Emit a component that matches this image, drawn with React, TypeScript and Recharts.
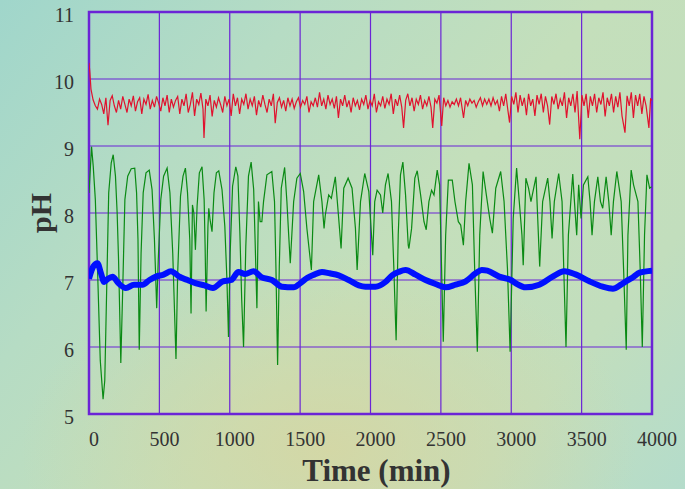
import { LineChart, Line, XAxis, YAxis, CartesianGrid, ReferenceArea } from 'recharts';

// time (min) ticks and pH ticks
const timeTicks = [0, 500, 1000, 1500, 2000, 2500, 3000, 3500, 4000];
const phTicks = [5, 6, 7, 8, 9, 10, 11];

// red trace, [time, pH]
const redPoints: [number, number][] = [
  [0, 10.24], [6, 10.1], [14, 9.85], [29, 9.69], [45, 9.6], [60, 9.55], [75, 9.7], [90, 9.62], [105, 9.48], [120, 9.72],
  [135, 9.31], [150, 9.68], [165, 9.75], [180, 9.6], [195, 9.5], [210, 9.68], [225, 9.55], [240, 9.74], [255, 9.62], [270, 9.5],
  [285, 9.7], [300, 9.6], [315, 9.75], [330, 9.52], [345, 9.66], [360, 9.72], [375, 9.48], [390, 9.7], [405, 9.62], [420, 9.77],
  [435, 9.55], [450, 9.68], [465, 9.58], [480, 9.74], [495, 9.64], [510, 9.52], [525, 9.72], [540, 9.6], [555, 9.76], [570, 9.5],
  [585, 9.7], [600, 9.58], [615, 9.68], [630, 9.74], [645, 9.48], [660, 9.7], [675, 9.6], [690, 9.78], [705, 9.5], [720, 9.62],
  [735, 9.8], [750, 9.45], [765, 9.7], [780, 9.62], [795, 9.79], [810, 9.55], [817, 9.12], [830, 9.7], [845, 9.6], [860, 9.76],
  [875, 9.44], [890, 9.68], [905, 9.58], [920, 9.72], [935, 9.62], [950, 9.5], [965, 9.74], [980, 9.6], [995, 9.7], [1010, 9.45],
  [1025, 9.78], [1040, 9.6], [1055, 9.72], [1070, 9.48], [1085, 9.7], [1100, 9.62], [1115, 9.78], [1130, 9.55], [1145, 9.7], [1160, 9.6],
  [1175, 9.74], [1190, 9.46], [1205, 9.68], [1220, 9.58], [1235, 9.76], [1250, 9.62], [1265, 9.5], [1280, 9.7], [1295, 9.6], [1310, 9.78],
  [1323, 9.34], [1338, 9.65], [1353, 9.72], [1368, 9.58], [1383, 9.68], [1398, 9.52], [1413, 9.72], [1428, 9.6], [1443, 9.7], [1458, 9.56],
  [1473, 9.66], [1488, 9.72], [1503, 9.58], [1518, 9.68], [1533, 9.62], [1548, 9.74], [1563, 9.5], [1578, 9.66], [1593, 9.6], [1608, 9.72],
  [1623, 9.58], [1638, 9.8], [1653, 9.6], [1668, 9.7], [1683, 9.55], [1698, 9.76], [1713, 9.62], [1728, 9.7], [1743, 9.56], [1758, 9.74],
  [1772, 9.42], [1787, 9.7], [1802, 9.6], [1817, 9.76], [1832, 9.58], [1847, 9.68], [1862, 9.5], [1877, 9.72], [1892, 9.6], [1907, 9.68],
  [1922, 9.54], [1937, 9.7], [1952, 9.62], [1967, 9.76], [1982, 9.55], [1997, 9.68], [2012, 9.6], [2027, 9.78], [2042, 9.5], [2057, 9.66],
  [2072, 9.6], [2087, 9.74], [2102, 9.56], [2117, 9.7], [2132, 9.62], [2147, 9.78], [2162, 9.48], [2177, 9.7], [2192, 9.6], [2207, 9.76],
  [2222, 9.58], [2235, 9.27], [2250, 9.68], [2265, 9.78], [2280, 9.6], [2295, 9.72], [2310, 9.52], [2325, 9.7], [2340, 9.62], [2355, 9.76],
  [2370, 9.55], [2385, 9.68], [2400, 9.6], [2415, 9.74], [2430, 9.58], [2442, 9.27], [2457, 9.7], [2472, 9.64], [2487, 9.76], [2506, 9.3],
  [2520, 9.72], [2535, 9.6], [2550, 9.68], [2565, 9.58], [2580, 9.66], [2595, 9.62], [2610, 9.7], [2625, 9.6], [2640, 9.72], [2661, 9.42],
  [2676, 9.68], [2691, 9.6], [2706, 9.7], [2721, 9.64], [2736, 9.68], [2751, 9.58], [2766, 9.66], [2781, 9.72], [2796, 9.6], [2811, 9.7],
  [2826, 9.62], [2841, 9.7], [2856, 9.6], [2871, 9.72], [2886, 9.62], [2901, 9.68], [2916, 9.52], [2931, 9.74], [2946, 9.6], [2961, 9.78],
  [2975, 9.55], [2988, 9.35], [3003, 9.74], [3018, 9.62], [3033, 9.8], [3048, 9.5], [3063, 9.76], [3078, 9.6], [3093, 9.72], [3108, 9.46],
  [3123, 9.78], [3138, 9.6], [3153, 9.7], [3168, 9.45], [3183, 9.76], [3198, 9.62], [3213, 9.78], [3228, 9.5], [3243, 9.74], [3258, 9.6],
  [3273, 9.32], [3288, 9.74], [3303, 9.62], [3318, 9.78], [3333, 9.55], [3348, 9.7], [3363, 9.6], [3378, 9.8], [3393, 9.42], [3408, 9.72],
  [3423, 9.6], [3438, 9.78], [3453, 9.5], [3468, 9.82], [3487, 9.1], [3502, 9.76], [3517, 9.6], [3532, 9.78], [3547, 9.42], [3562, 9.74],
  [3577, 9.6], [3592, 9.78], [3607, 9.5], [3622, 9.72], [3637, 9.62], [3652, 9.8], [3667, 9.44], [3682, 9.72], [3697, 9.6], [3712, 9.78],
  [3727, 9.5], [3742, 9.74], [3757, 9.58], [3772, 9.8], [3787, 9.45], [3808, 9.2], [3823, 9.75], [3838, 9.6], [3853, 9.8], [3868, 9.42],
  [3883, 9.76], [3898, 9.6], [3913, 9.78], [3928, 9.48], [3943, 9.74], [3958, 9.6], [3978, 9.27], [3990, 9.7], [4000, 9.68],
];

// green trace, [time, pH]
const greenPoints: [number, number][] = [
  [0, 8.3], [18, 8.99], [30, 8.7], [45, 8.2], [60, 7.2], [80, 5.8], [100, 5.22], [112, 5.5], [125, 6.8], [140, 8.3],
  [158, 8.75], [172, 8.87], [188, 8.55], [200, 8.0], [210, 7.3], [226, 5.76], [240, 6.9], [255, 8.2], [275, 8.55], [300, 8.66],
  [325, 8.67], [338, 8.3], [348, 7.6], [357, 5.96], [370, 7.4], [385, 8.3], [405, 8.6], [428, 8.64], [448, 8.35], [465, 7.6],
  [481, 6.58], [492, 7.3], [510, 8.2], [530, 8.55], [555, 8.67], [575, 8.3], [595, 7.4], [618, 5.82], [630, 7.1], [650, 8.25],
  [668, 8.55], [685, 8.67], [700, 8.3], [716, 7.6], [725, 6.5], [735, 8.12], [745, 8.0], [756, 7.45], [768, 8.1], [784, 8.6],
  [803, 8.69], [818, 8.2], [825, 7.5], [832, 6.53], [845, 7.8], [851, 8.07], [860, 7.9], [874, 7.72], [888, 8.3], [905, 8.6],
  [922, 8.63], [945, 8.35], [965, 7.8], [980, 7.0], [991, 6.15], [1003, 7.4], [1020, 8.4], [1043, 8.69], [1058, 8.55], [1072, 7.7],
  [1085, 6.7], [1098, 6.0], [1114, 7.5], [1133, 8.55], [1152, 8.76], [1170, 8.35], [1180, 7.6], [1193, 6.58], [1204, 8.17], [1216, 7.87],
  [1228, 7.87], [1240, 8.17], [1264, 8.57], [1299, 8.62], [1318, 8.17], [1328, 7.2], [1340, 5.73], [1352, 7.2], [1366, 8.37], [1390, 8.68],
  [1406, 8.17], [1418, 7.7], [1430, 7.25], [1454, 8.17], [1477, 8.52], [1501, 8.59], [1525, 8.32], [1548, 7.77], [1580, 7.15], [1596, 8.17],
  [1632, 8.57], [1655, 8.17], [1670, 7.77], [1679, 7.97], [1703, 8.27], [1722, 8.22], [1750, 8.54], [1774, 7.92], [1791, 7.47], [1810, 8.37],
  [1841, 8.52], [1869, 8.37], [1893, 7.77], [1905, 7.15], [1929, 8.17], [1959, 8.59], [1988, 8.32], [2007, 7.67], [2016, 7.37], [2030, 8.17],
  [2047, 8.34], [2071, 8.27], [2087, 8.0], [2106, 8.42], [2125, 8.59], [2149, 8.17], [2166, 7.17], [2182, 6.1], [2197, 7.67], [2213, 8.57],
  [2230, 8.76], [2249, 8.27], [2268, 7.52], [2273, 7.47], [2292, 7.77], [2315, 8.52], [2332, 8.63], [2356, 8.27], [2380, 7.87], [2396, 7.75],
  [2415, 8.17], [2434, 8.34], [2451, 8.27], [2474, 8.64], [2491, 8.42], [2505, 7.17], [2517, 6.08], [2534, 7.67], [2553, 8.49], [2581, 8.49],
  [2600, 8.17], [2624, 7.87], [2641, 7.82], [2660, 7.52], [2676, 8.17], [2700, 8.74], [2724, 8.42], [2740, 7.17], [2759, 5.93], [2776, 7.67],
  [2800, 8.62], [2823, 8.27], [2847, 7.92], [2866, 7.7], [2890, 8.37], [2925, 8.62], [2949, 8.17], [2973, 7.17], [2992, 5.93], [3014, 7.92],
  [3038, 8.67], [3057, 8.17], [3076, 7.67], [3085, 7.22], [3104, 8.52], [3123, 8.37], [3140, 8.17], [3176, 8.54], [3188, 7.92], [3202, 7.2],
  [3223, 8.17], [3259, 8.52], [3275, 8.17], [3290, 7.62], [3306, 8.17], [3337, 8.59], [3361, 8.17], [3373, 7.17], [3389, 6.0], [3406, 7.67],
  [3437, 8.58], [3449, 8.17], [3465, 7.67], [3479, 8.42], [3496, 7.92], [3513, 8.42], [3544, 8.54], [3560, 8.17], [3574, 7.67], [3591, 8.17],
  [3615, 8.54], [3634, 8.17], [3650, 8.07], [3674, 8.54], [3693, 8.17], [3710, 7.67], [3726, 8.17], [3750, 8.62], [3781, 8.17], [3798, 7.17],
  [3817, 5.96], [3829, 7.67], [3852, 8.64], [3869, 8.42], [3900, 8.17], [3916, 7.17], [3931, 6.0], [3947, 7.67], [3964, 8.57], [3983, 8.37],
  [3997, 8.39],
];

// blue trace, [time, pH]
const bluePoints: [number, number][] = [
  [0, 7.02], [30, 7.2], [60, 7.25], [85, 7.1], [108, 6.97], [135, 7.02], [167, 7.05], [210, 6.95], [262, 6.88], [320, 6.93],
  [381, 6.93], [430, 7.0], [476, 7.05], [530, 7.08], [583, 7.13], [610, 7.1], [642, 7.05], [700, 7.0], [761, 6.95], [820, 6.92],
  [880, 6.88], [951, 6.98], [1010, 7.0], [1062, 7.12], [1109, 7.09], [1169, 7.13], [1228, 7.04], [1299, 7.0], [1371, 6.9], [1454, 6.89],
  [1500, 6.95], [1549, 7.03], [1600, 7.08], [1655, 7.12], [1710, 7.1], [1774, 7.07], [1845, 7.0], [1917, 6.92], [1964, 6.9], [2035, 6.9],
  [2106, 6.97], [2154, 7.07], [2200, 7.12], [2249, 7.15], [2320, 7.08], [2391, 7.0], [2463, 6.94], [2534, 6.89], [2605, 6.93], [2676, 6.98],
  [2747, 7.1], [2790, 7.15], [2830, 7.14], [2914, 7.05], [2997, 7.0], [3033, 6.95], [3104, 6.89], [3199, 6.93], [3294, 7.05], [3377, 7.13],
  [3461, 7.08], [3555, 6.98], [3650, 6.9], [3722, 6.87], [3780, 6.93], [3817, 6.98], [3870, 7.05], [3912, 7.11], [4000, 7.14],
];

const toRows = (pts: [number, number][]) => pts.map(([t, ph]) => ({ t, ph }));

const FONT = '"Liberation Serif", "Times New Roman", serif';
const PURPLE = '#6b24d6';

const YTitle = (props: any) => {
  const { viewBox } = props;
  const cx = 40;
  const cy = viewBox.y + viewBox.height / 2;
  return (
    <text x={cx} y={cy} transform={`rotate(-90 ${cx} ${cy})`} textAnchor="middle" dominantBaseline="central"
      fontFamily={FONT} fontWeight="bold" fontSize={30} fill="#333">pH</text>
  );
};

const XTitle = (props: any) => {
  const { viewBox } = props;
  return (
    <text x={viewBox.x + viewBox.width / 2 + 6} y={481} textAnchor="middle"
      fontFamily={FONT} fontWeight="bold" fontSize={31} fill="#333">Time (min)</text>
  );
};

export default function App() {
  return (
    <div style={{
      position: 'fixed', left: 0, top: 0, width: 685, height: 489,
      background: 'radial-gradient(ellipse 45% 40% at 48% 92%, rgba(214,214,162,0.85) 0%, rgba(214,214,162,0) 100%), ' +
        'linear-gradient(130deg, #a0d6cb 0%, #b6dcc4 28%, #c4dfbb 55%, #c2debd 80%, #b4dccb 100%)',
    }}>
      <LineChart width={685} height={489} margin={{ top: 12, right: 33, left: 0, bottom: 0 }}>
        <CartesianGrid stroke={PURPLE} strokeWidth={1.2} horizontalValues={phTicks} verticalValues={timeTicks} />
        <XAxis type="number" dataKey="t" domain={[0, 4000]} ticks={timeTicks} allowDataOverflow
          height={75} axisLine={false} tickLine={false} tickSize={0} tickMargin={18}
          tick={{ fontFamily: FONT, fontSize: 20, fill: '#333', dx: 5 }}
          label={<XTitle />} />
        <YAxis type="number" domain={[5, 11]} ticks={phTicks} allowDataOverflow
          width={89} axisLine={false} tickLine={false} tickSize={0} tickMargin={15}
          tick={{ fontFamily: FONT, fontSize: 20, fill: '#333', dy: 3 }}
          label={<YTitle />} />
        <ReferenceArea x1={0} x2={4000} y1={5} y2={11} fill="none" stroke={PURPLE} strokeWidth={2.5} ifOverflow="visible" />
        <Line data={toRows(redPoints)} dataKey="ph" type="linear" stroke="#e0122e" strokeWidth={1.2} dot={false} isAnimationActive={false} />
        <Line data={toRows(greenPoints)} dataKey="ph" type="linear" stroke="#0a8a14" strokeWidth={1.2} dot={false} isAnimationActive={false} />
        <Line data={toRows(bluePoints)} dataKey="ph" type="monotone" stroke="#0010ff" strokeWidth={6} strokeLinejoin="round" dot={false} isAnimationActive={false} />
      </LineChart>
    </div>
  );
}
